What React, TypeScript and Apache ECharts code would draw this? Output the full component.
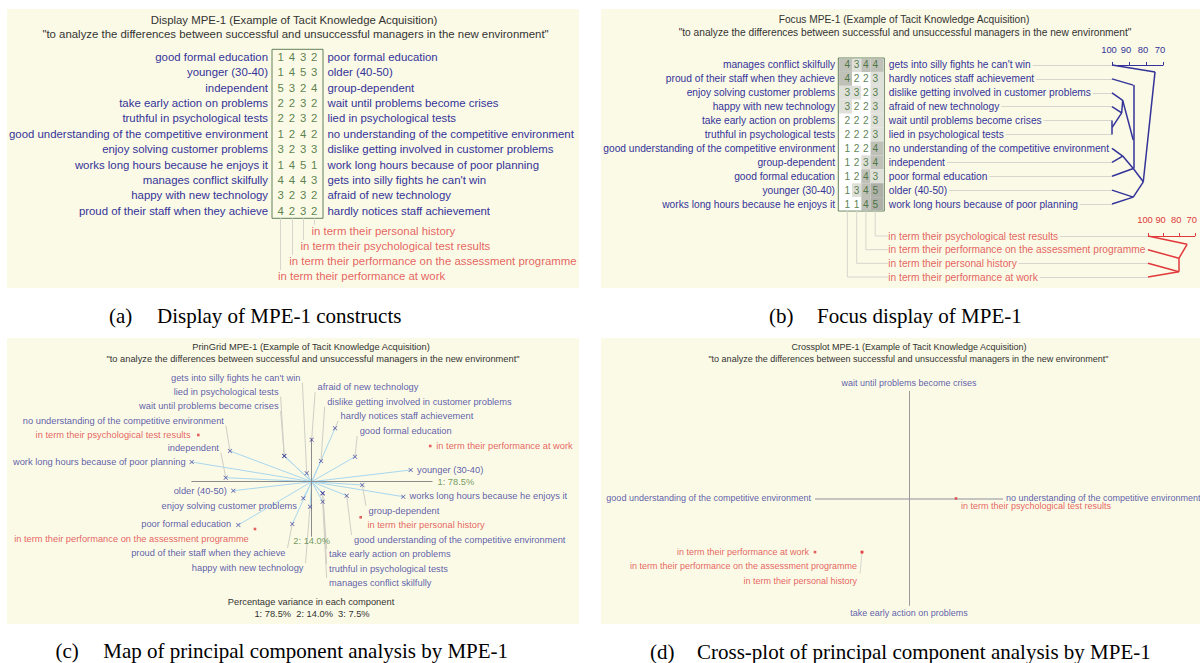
import React, { useEffect, useRef } from "react";
import * as echarts from "echarts";

// ================= DATA =================
const elementNames = [
  "in term their performance at work",
  "in term their performance on the assessment programme",
  "in term their psychological test results",
  "in term their personal history",
];

// (a) Display grid: ratings per element column (work, assessment, psych, history)
const displayLeft = [
  "good formal education",
  "younger (30-40)",
  "independent",
  "take early action on problems",
  "truthful in psychological tests",
  "good understanding of the competitive environment",
  "enjoy solving customer problems",
  "works long hours because he enjoys it",
  "manages conflict skilfully",
  "happy with new technology",
  "proud of their staff when they achieve",
];
const displayRight = [
  "poor formal education",
  "older (40-50)",
  "group-dependent",
  "wait until problems become crises",
  "lied in psychological tests",
  "no understanding of the competitive environment",
  "dislike getting involved in customer problems",
  "work long hours because of poor planning",
  "gets into silly fights he can't win",
  "afraid of new technology",
  "hardly notices staff achievement",
];
const displayRatings = [
  [1, 4, 3, 2],
  [1, 4, 5, 3],
  [5, 3, 2, 4],
  [2, 2, 3, 2],
  [2, 2, 3, 2],
  [1, 2, 4, 2],
  [3, 2, 3, 3],
  [1, 4, 5, 1],
  [4, 4, 4, 3],
  [3, 2, 3, 2],
  [4, 2, 3, 2],
];
const displayElementRows = [3, 2, 1, 0];

// (b) Focus grid
const focusLeft = [
  "manages conflict skilfully",
  "proud of their staff when they achieve",
  "enjoy solving customer problems",
  "happy with new technology",
  "take early action on problems",
  "truthful in psychological tests",
  "good understanding of the competitive environment",
  "group-dependent",
  "good formal education",
  "younger (30-40)",
  "works long hours because he enjoys it",
];
const focusRight = [
  "gets into silly fights he can't win",
  "hardly notices staff achievement",
  "dislike getting involved in customer problems",
  "afraid of new technology",
  "wait until problems become crises",
  "lied in psychological tests",
  "no understanding of the competitive environment",
  "independent",
  "poor formal education",
  "older (40-50)",
  "work long hours because of poor planning",
];
const focusRatings = [
  [4, 3, 4, 4],
  [4, 2, 2, 3],
  [3, 3, 2, 3],
  [3, 2, 2, 3],
  [2, 2, 2, 3],
  [2, 2, 2, 3],
  [1, 2, 2, 4],
  [1, 2, 3, 4],
  [1, 2, 4, 3],
  [1, 3, 4, 5],
  [1, 1, 4, 5],
];
const focusColumnElements = [0, 3, 1, 2];
const focusElementRows = [2, 1, 3, 0];

// focus trees: internal nodes as [similarity %, row position]
const constructTreeNodes: Record<string, number[]> = {
  A: [74.7, 0.5],
  B: [81.6, 8.4],
  C: [87.5, 1.45],
  P: [87.5, 5.4],
  D: [87.5, 7.45],
  E: [93.7, 2.55],
  F: [94.3, 3.45],
  G: [100, 4.5],
  H: [93.7, 6.55],
  I: [87.5, 9.5],
};
const constructTreeEdges = [
  ["L0", "A"], ["B", "A"], ["L1", "C"], ["C", "P"], ["E", "P"], ["P", "D"],
  ["H", "D"], ["L8", "D"], ["D", "B"], ["I", "B"], ["L9", "I"], ["L10", "I"],
  ["L2", "E"], ["F", "E"], ["L3", "F"], ["G", "F"], ["L4", "G"], ["L5", "G"],
  ["L6", "H"], ["L7", "H"],
];
const elementTreeNodes: Record<string, number[]> = {
  N3: [74.9, 0.61],
  N2: [80.2, 1.63],
  N1: [80.2, 2.61],
};
const elementTreeEdges = [
  ["L0", "N3"], ["N2", "N3"], ["L1", "N2"], ["N1", "N2"], ["L2", "N1"], ["L3", "N1"],
];

// (c) principal components: pole positions (component 1, component 2)
const pcaLeftPole = [
  [43.3, 25], [99, 11.7], [-86, 4], [11, -11.6], [11, -11.6], [35, -14],
  [-8.4, -16.6], [91.6, -15], [11, -20], [-1.7, -25], [-19.4, -42.3],
];
const pcaRightPole = [
  [-73.4, -43.3], [-78.4, -9], [50.6, -3.3], [-27.4, 25.7], [-27.4, 25.7], [-81.7, 30.7],
  [9.3, 20.7], [-120, 19.7], [-5, 8.4], [0, 42], [23.3, 53.4],
];
const pcaElements = [[118.5, 35.7], [-56.7, -47.3], [-113.4, 46.7], [49, -35.6]];
const varianceShares = [78.5, 14.0, 7.5];

// (d) cross-plot constructs (indices into display constructs)
const crossX = 5;
const crossY = 3;

// ================= STYLE / LAYOUT =================
const FONT = "'Liberation Sans', Arial, sans-serif";
const SERIF = "'Liberation Serif', 'Times New Roman', serif";
const CREAM = "#fbfae6";
const BLUE = "#333399";
const RED = "#e0393b";
const GREEN = "#2f6226";
const BOXC = "#62805a";
const LGRAY = "#d6d6ce";
const TITLEC = "#333333";

const A_XMIN = -0.78, A_XMAX = 3.78;
const B_XMIN = -0.98, B_XMAX = 3.98;
const OX = 311.7, OY = 481.7;

const pcaLabelLayout: Record<string, any[]> = {
  "gets into silly fights he can't win": [300.4, 377.7, "R", true],
  "lied in psychological tests": [278.6, 391.7, "R", true],
  "wait until problems become crises": [278.6, 406, "R", true],
  "no understanding of the competitive environment": [223.9, 420.7, "R", true],
  "independent": [218.9, 447.7, "R", true],
  "work long hours because of poor planning": [185.6, 462.3, "R", false],
  "afraid of new technology": [317.6, 387.3, "L", true],
  "dislike getting involved in customer problems": [327.2, 401.7, "L", true],
  "hardly notices staff achievement": [340.6, 416, "L", true],
  "good formal education": [359.7, 431, "L", true],
  "younger (30-40)": [417.1, 470, "L", false],
  "works long hours because he enjoys it": [409.5, 496, "L", false],
  "group-dependent": [368.5, 511, "L", true],
  "good understanding of the competitive environment": [354, 540, "L", true],
  "take early action on problems": [329.1, 554, "L", true],
  "truthful in psychological tests": [329.1, 569, "L", true],
  "manages conflict skilfully": [329.1, 583, "L", true],
  "older (40-50)": [226.9, 491, "R", false],
  "enjoy solving customer problems": [297, 505.7, "R", false],
  "poor formal education": [231.2, 524.3, "R", false],
  "proud of their staff when they achieve": [285.5, 553, "R", true],
  "happy with new technology": [303.5, 568, "R", true],
};
const pcaElementLabelLayout: any[] = [
  [436.3, 446, "L"],
  [248.8, 539.3, "R"],
  [190.6, 435, "R"],
  [367.4, 525, "L"],
];
// cross-plot element label placement: [position, distance, dx, dy]
const crossLabelLayout: any[] = [
  ["left", 4.6, 0, 0],
  ["left", 3.7, 0, 14],
  ["right", 0, 3.7, 7.6],
  ["left", 3.7, 0, 29],
];

const cellShade = (v: number) =>
  v <= 2 ? "#ffffff" : v === 3 ? "#dfe0d9" : v === 4 ? "#bfc0b8" : "#aeb0a8";

function nodePos(nodes: Record<string, number[]>, id: string) {
  if (id[0] === "L") return [100, Number(id.slice(1))];
  return nodes[id];
}

function buildOption() {
  const lbl = (size: number, color: string, extra: any = {}) => ({
    show: true,
    fontFamily: FONT,
    fontSize: size,
    color,
    textBorderWidth: 0,
    textBorderColor: "transparent",
    textShadowBlur: 0,
    ...extra,
  });

  const texts: any[] = [];
  const addText = (x: number, y: number, text: string, size: number, color: string, align = "center", family = FONT) =>
    texts.push({
      type: "text",
      x,
      y,
      z: 100,
      style: {
        text,
        fill: color,
        fontSize: size,
        fontFamily: family,
        align,
        verticalAlign: "middle",
        textAlign: align,
        textVerticalAlign: "middle",
      },
    });

  const titleMain = " MPE-1 (Example of Tacit Knowledge Acquisition)";
  const subtitle = '"to analyze the differences between successful and unsuccessful managers in the new environment"';
  addText(294, 20, "Display" + titleMain, 11.4, TITLEC);
  addText(295.5, 34, subtitle, 11.4, TITLEC);
  addText(904, 19, "Focus" + titleMain, 10.2, TITLEC);
  addText(905, 32, subtitle, 10.2, TITLEC);
  addText(311, 347, "PrinGrid" + titleMain, 9.3, TITLEC);
  addText(313, 359, subtitle, 9.3, TITLEC);
  addText(909, 347, "Crossplot" + titleMain, 9, TITLEC);
  addText(908.4, 359, subtitle, 9, TITLEC);
  addText(311, 601.7, "Percentage variance in each component", 9.3, TITLEC);
  addText(
    312,
    614,
    varianceShares.map((v, i) => `${i + 1}: ${v.toFixed(1)}%`).join("\u00a0\u00a0"),
    9.3,
    TITLEC
  );
  // captions
  const cap = (x1: number, x2: number, y: number, tag: string, text: string) => {
    addText(x1, y, tag, 21, "#000", "left", SERIF);
    addText(x2, y, text, 21, "#000", "left", SERIF);
  };
  cap(109, 157, 316, "(a)", "Display of MPE-1 constructs");
  cap(769, 817, 316, "(b)", "Focus display of MPE-1");
  cap(55.5, 103.3, 651, "(c)", "Map of principal component analysis by MPE-1");
  cap(650, 697, 652, "(d)", "Cross-plot of principal component analysis by MPE-1");

  const bgs = [
    [7, 9, 572, 279],
    [601, 9, 599, 279],
    [7, 338, 572, 286],
    [601, 338, 599, 286],
  ].map(([x, y, w, h]) => ({
    type: "rect",
    z: -10,
    shape: { x, y, width: w, height: h },
    style: { fill: CREAM },
  }));

  // ---------- grids ----------
  const grid = [
    { left: 272, top: 49.3, width: 51, height: 169, show: true, borderColor: BOXC, borderWidth: 1, backgroundColor: "transparent" },
    { left: 272, top: 218.3, width: 51, height: 60.4 },
    { left: 838.3, top: 58, width: 46, height: 153, show: true, borderColor: BOXC, borderWidth: 1, backgroundColor: "#ffffff" },
    { left: 838.3, top: 211, width: 46, height: 68.35 },
    { left: 1112, top: 58, width: 51, height: 153 },
    { left: 1148, top: 225.75, width: 51, height: 58.1 },
    { left: OX - 300, top: OY - 140, width: 560, height: 280 },
    { left: 815, top: 391, width: 188, height: 214.8 },
  ];

  const hiddenVal = (gridIndex: number, min: number, max: number, inverse = false) => ({
    type: "value",
    gridIndex,
    min,
    max,
    inverse,
    show: false,
  });

  const scaleAxis = (gridIndex: number, color: string) => ({
    type: "value",
    gridIndex,
    position: "top",
    inverse: true,
    min: 70,
    max: 100,
    interval: 10,
    offset: gridIndex === 4 ? 2 : 0,
    axisLine: { show: true, lineStyle: { color, width: 1.2 } },
    axisTick: { show: true, inside: false, length: 3, lineStyle: { color } },
    axisLabel: { color, fontSize: 9.4, fontFamily: FONT, margin: 2, padding: [0, 6, 0, 0] },
    splitLine: { show: false },
  });

  const xAxis = [
    hiddenVal(0, A_XMIN, A_XMAX),
    hiddenVal(1, A_XMIN, A_XMAX),
    hiddenVal(2, B_XMIN, B_XMAX),
    hiddenVal(3, B_XMIN, B_XMAX),
    scaleAxis(4, BLUE),
    scaleAxis(5, RED),
    hiddenVal(6, -300, 260),
    hiddenVal(7, 1, 5),
  ];

  const catAxis = (gridIndex: number, data: string[], position: string, size: number, margin: number, bg = false) => ({
    type: "category",
    gridIndex,
    data,
    inverse: true,
    position,
    z: 10,
    axisLine: { show: false },
    axisTick: { show: false },
    splitLine: { show: false },
    axisLabel: {
      color: BLUE,
      fontSize: size,
      fontFamily: FONT,
      margin,
      interval: 0,
      ...(bg ? { backgroundColor: CREAM, padding: [1, 2, 1, 0] } : {}),
    },
  });

  const yAxis = [
    catAxis(0, displayLeft, "left", 11.4, 4),
    catAxis(0, displayRight, "right", 11.4, 4.5),
    hiddenVal(1, 0, 4, true),
    catAxis(2, focusLeft, "left", 10.2, 3.3),
    catAxis(2, focusRight, "right", 10.2, 4.5, true),
    hiddenVal(3, 0, 5, true),
    hiddenVal(4, -0.5, 10.5, true),
    hiddenVal(5, -0.75, 3.5, true),
    hiddenVal(6, -140, 140),
    hiddenVal(7, 1, 5),
  ];

  const series: any[] = [];
  const clear = { color: "rgba(0,0,0,0)" };

  // ---------- (a) display ----------
  series.push({
    type: "scatter",
    xAxisIndex: 0,
    yAxisIndex: 0,
    symbolSize: 1,
    itemStyle: clear,
    data: displayRatings.flatMap((row, r) => row.map((v, c) => [c, r, v])),
    label: lbl(11.4, GREEN, { position: "inside", formatter: (p: any) => String(p.value[2]) }),
    z: 3,
  });
  series.push({
    type: "lines",
    coordinateSystem: "cartesian2d",
    xAxisIndex: 1,
    yAxisIndex: 2,
    clip: false,
    lineStyle: { color: LGRAY, width: 1, opacity: 1 },
    data: displayElementRows.map((e, k) => ({ coords: [[e, 0], [e, k + 0.85 - 0.42]] })),
    z: 1,
  });
  series.push({
    type: "scatter",
    xAxisIndex: 1,
    yAxisIndex: 2,
    symbolSize: 0,
    itemStyle: clear,
    data: displayElementRows.map((e, k) => ({ value: [e, k + 0.85], name: elementNames[e] })),
    label: lbl(11.4, RED, { position: "right", distance: 0, offset: [-2.7, 0], formatter: "{b}" }),
    z: 4,
  });

  // ---------- (b) focus ----------
  series.push({
    type: "custom",
    xAxisIndex: 2,
    yAxisIndex: 3,
    data: focusRatings.flatMap((row, r) => row.map((v, c) => [c, r, v])),
    renderItem: (params: any, api: any) => {
      const c = api.value(0);
      const r = api.value(1);
      const v = api.value(2);
      const x0 = c === 0 ? B_XMIN : c - 0.5;
      const x1 = c === 3 ? B_XMAX : c + 0.5;
      const p0 = api.coord([x0, r]);
      const p1 = api.coord([x1, r]);
      const h = api.size([0, 1])[1];
      let left = p0[0];
      let right = p1[0];
      let top = p0[1] - h / 2;
      let bottom = p0[1] + h / 2;
      if (c === 0) left += 0.8;
      if (c === 3) right -= 0.8;
      if (r === 0) top += 0.8;
      if (r === focusRatings.length - 1) bottom -= 0.8;
      return {
        type: "rect",
        shape: { x: left, y: top, width: right - left, height: bottom - top },
        style: { fill: cellShade(v) },
      };
    },
    z: 2,
  });
  series.push({
    type: "scatter",
    xAxisIndex: 2,
    yAxisIndex: 3,
    symbolSize: 1,
    itemStyle: clear,
    data: focusRatings.flatMap((row, r) => row.map((v, c) => [c, r, v])),
    label: lbl(10.2, GREEN, { position: "inside", formatter: (p: any) => String(p.value[2]) }),
    z: 3,
  });
  const bLabelStart = B_XMAX + 4 / 9.2;
  series.push({
    type: "lines",
    coordinateSystem: "cartesian2d",
    xAxisIndex: 3,
    yAxisIndex: 5,
    polyline: true,
    clip: false,
    lineStyle: { color: LGRAY, width: 1, opacity: 1 },
    data: focusElementRows.map((e, k) => {
      const c = focusColumnElements.indexOf(e);
      return { coords: [[c, 0], [c, k + 1.83], [bLabelStart, k + 1.83]] };
    }),
    z: 1,
  });
  series.push({
    type: "scatter",
    xAxisIndex: 3,
    yAxisIndex: 5,
    symbolSize: 0,
    itemStyle: clear,
    data: focusElementRows.map((e, k) => ({ value: [B_XMAX, k + 1.83], name: elementNames[e] })),
    label: lbl(10.2, RED, {
      position: "right",
      distance: 0,
      offset: [4, 0],
      formatter: "{b}",
      backgroundColor: CREAM,
      padding: [1, 2, 1, 0],
    }),
    z: 6,
  });
  // leader lines from labels to the trees
  series.push({
    type: "lines",
    coordinateSystem: "cartesian2d",
    xAxisIndex: 4,
    yAxisIndex: 6,
    clip: false,
    lineStyle: { color: LGRAY, width: 1, opacity: 1 },
    data: focusRight.map((_, i) => ({ coords: [[100 + (1112 - 889) / 1.7, i], [100, i]] })),
    z: 1,
  });
  series.push({
    type: "lines",
    coordinateSystem: "cartesian2d",
    xAxisIndex: 5,
    yAxisIndex: 7,
    clip: false,
    lineStyle: { color: LGRAY, width: 1, opacity: 1 },
    data: focusElementRows.map((_, k) => ({ coords: [[100 + (1148 - 889) / 1.7, k], [100, k]] })),
    z: 1,
  });
  series.push({
    type: "lines",
    coordinateSystem: "cartesian2d",
    xAxisIndex: 4,
    yAxisIndex: 6,
    clip: false,
    lineStyle: { color: BLUE, width: 1.5, opacity: 1 },
    data: constructTreeEdges.map(([a, b]) => ({
      coords: [nodePos(constructTreeNodes, a), nodePos(constructTreeNodes, b)],
    })),
    z: 4,
  });
  series.push({
    type: "lines",
    coordinateSystem: "cartesian2d",
    xAxisIndex: 5,
    yAxisIndex: 7,
    clip: false,
    lineStyle: { color: RED, width: 1.5, opacity: 1 },
    data: elementTreeEdges.map(([a, b]) => ({
      coords: [nodePos(elementTreeNodes, a), nodePos(elementTreeNodes, b)],
    })),
    z: 4,
  });

  // ---------- (c) principal components ----------
  const toData = (x: number, y: number) => [x - OX, OY - y];
  const poleNames = [...displayLeft, ...displayRight];
  const polePts = [...pcaLeftPole, ...pcaRightPole];
  const leaders: any[] = [];
  const labelPts: any[] = [];
  poleNames.forEach((name, i) => {
    const lay = pcaLabelLayout[name];
    if (!lay) return;
    const [lx, ly, al, lead] = lay;
    labelPts.push({ value: toData(lx, ly), name, label: { align: al === "L" ? "left" : "right" } });
    if (lead) {
      const p = polePts[i];
      const poleY = OY - p[1];
      const sx = al === "L" ? lx - 2.5 : lx + 2;
      const sy = poleY < ly ? ly - 5 : ly + 5;
      leaders.push({ coords: [toData(sx, sy), p] });
    }
  });
  series.push({
    type: "lines",
    coordinateSystem: "cartesian2d",
    xAxisIndex: 6,
    yAxisIndex: 8,
    clip: false,
    lineStyle: { color: "#a9d7ef", width: 1, opacity: 1 },
    data: polePts.map((p) => ({ coords: [[0, 0], p] })),
    z: 2,
  });
  series.push({
    type: "lines",
    coordinateSystem: "cartesian2d",
    xAxisIndex: 6,
    yAxisIndex: 8,
    clip: false,
    lineStyle: { color: "#8c8c8c", width: 1, opacity: 1 },
    data: [
      { coords: [[-120.3, 0], [120.8, 0]] },
      { coords: [[0, 43.4], [0, -55]] },
    ],
    z: 3,
  });
  series.push({
    type: "lines",
    coordinateSystem: "cartesian2d",
    xAxisIndex: 6,
    yAxisIndex: 8,
    clip: false,
    lineStyle: { color: "#cfcfc6", width: 1, opacity: 1 },
    data: leaders,
    z: 2,
  });
  series.push({
    type: "scatter",
    xAxisIndex: 6,
    yAxisIndex: 8,
    clip: false,
    symbol: "path://M0,1L1,0L5,4L9,0L10,1L6,5L10,9L9,10L5,6L1,10L0,9L4,5Z",
    symbolSize: 4.5,
    itemStyle: { color: BLUE },
    data: polePts,
    z: 5,
  });
  series.push({
    type: "scatter",
    xAxisIndex: 6,
    yAxisIndex: 8,
    clip: false,
    symbol: "rect",
    symbolSize: 2.6,
    itemStyle: { color: RED },
    data: pcaElements,
    z: 5,
  });
  series.push({
    type: "scatter",
    xAxisIndex: 6,
    yAxisIndex: 8,
    clip: false,
    symbolSize: 0,
    itemStyle: clear,
    data: labelPts,
    label: lbl(9.3, BLUE, { position: "inside", verticalAlign: "middle", formatter: "{b}" }),
    z: 6,
  });
  series.push({
    type: "scatter",
    xAxisIndex: 6,
    yAxisIndex: 8,
    clip: false,
    symbolSize: 0,
    itemStyle: clear,
    data: pcaElementLabelLayout.map(([lx, ly, al], e) => ({
      value: toData(lx, ly),
      name: elementNames[e],
      label: { align: al === "L" ? "left" : "right" },
    })),
    label: lbl(9.3, RED, { position: "inside", verticalAlign: "middle", formatter: "{b}" }),
    z: 6,
  });
  series.push({
    type: "scatter",
    xAxisIndex: 6,
    yAxisIndex: 8,
    clip: false,
    symbolSize: 0,
    itemStyle: clear,
    data: [
      { value: [120.8, 0], name: `1: ${varianceShares[0].toFixed(1)}%`, label: { position: "right", distance: 5 } },
      { value: [0, -55], name: `2: ${varianceShares[1].toFixed(1)}%`, label: { position: "bottom", distance: 0 } },
    ],
    label: lbl(9.3, "#4f7f3b", { formatter: "{b}" }),
    z: 6,
  });

  // ---------- (d) cross-plot ----------
  series.push({
    type: "lines",
    coordinateSystem: "cartesian2d",
    xAxisIndex: 7,
    yAxisIndex: 9,
    clip: false,
    data: [
      { coords: [[1, 3], [5, 3]], lineStyle: { color: "#c4c4c0", width: 2 } },
      { coords: [[3, 1], [3, 5]], lineStyle: { color: "#9a9a9a", width: 1 } },
      { coords: [[2, 2], [1.96, 1.6]], lineStyle: { color: "#d8d8d0", width: 1 } },
    ],
    lineStyle: { opacity: 1 },
    z: 2,
  });
  series.push({
    type: "scatter",
    xAxisIndex: 7,
    yAxisIndex: 9,
    clip: false,
    symbolSize: 0,
    itemStyle: clear,
    data: [
      { value: [3, 5], name: displayRight[crossY], label: { position: "top", distance: 4 } },
      { value: [3, 1], name: displayLeft[crossY], label: { position: "bottom", distance: 3 } },
      { value: [1, 3], name: displayLeft[crossX], label: { position: "left", distance: 4 } },
      { value: [5, 3], name: displayRight[crossX], label: { position: "right", distance: 3 } },
    ],
    label: lbl(9, BLUE, { formatter: "{b}" }),
    z: 5,
  });
  series.push({
    type: "scatter",
    xAxisIndex: 7,
    yAxisIndex: 9,
    clip: false,
    symbol: "rect",
    symbolSize: 2.6,
    itemStyle: { color: RED },
    data: elementNames.map((name, e) => {
      const [pos, dist, dx, dy] = crossLabelLayout[e];
      return {
        value: [displayRatings[crossX][e], displayRatings[crossY][e]],
        name,
        label: { position: pos, distance: dist, offset: [dx, dy] },
      };
    }),
    label: lbl(9, RED, { formatter: "{b}" }),
    z: 5,
  });

  return {
    animation: false,
    backgroundColor: "#ffffff",
    graphic: { elements: [...bgs, ...texts] },
    grid,
    xAxis,
    yAxis,
    series,
  };
}

export default function App() {
  const ref = useRef<HTMLDivElement>(null);
  useEffect(() => {
    document.body.style.margin = "0";
    const chart = echarts.init(ref.current as HTMLDivElement, undefined, {
      renderer: "svg",
      width: 1200,
      height: 663,
    });
    chart.setOption(buildOption() as any);
    return () => chart.dispose();
  }, []);
  return (
    <div
      ref={ref}
      style={{ position: "absolute", left: 0, top: 0, width: 1200, height: 663, background: "#fff" }}
    />
  );
}
